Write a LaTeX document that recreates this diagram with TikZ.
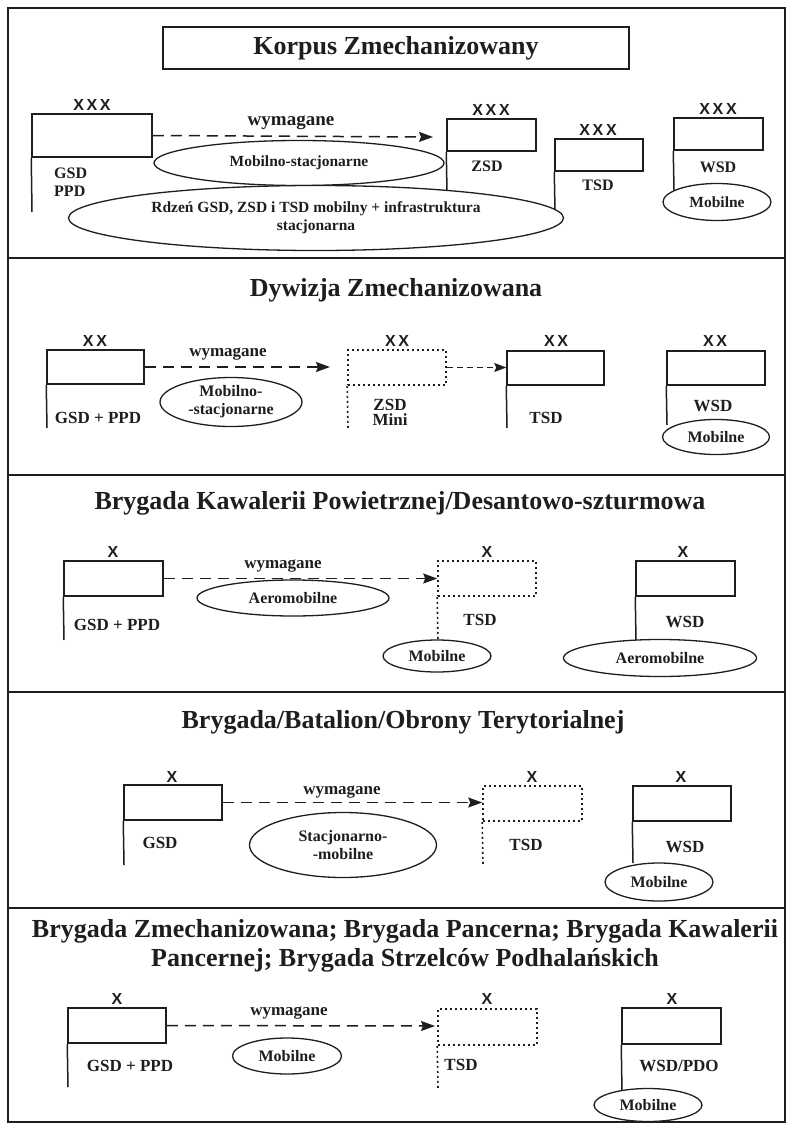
\documentclass[tikz,border=0pt]{standalone}
\usepackage{fontspec}
\setmainfont{Liberation Serif}
\newfontfamily\echelonfont{Liberation Sans}
\usetikzlibrary{shapes.geometric,arrows.meta}

\definecolor{ink}{HTML}{1E1E1E}

\tikzset{
  frameline/.style={draw=ink, line width=1.5pt},
  titletext/.style={font=\bfseries\fontsize{26}{29}\selectfont, text=ink, inner sep=0pt},
  unitbox/.style={draw=ink, line width=1.5pt, inner sep=0pt},
  dotbox/.style={draw=ink, line width=1.6pt, dash pattern=on 2pt off 3pt, inner sep=0pt},
  staffline/.style={draw=ink, line width=1.5pt},
  dotstaff/.style={draw=ink, line width=1.6pt, dash pattern=on 2pt off 3pt},
  echelon/.style={font=\echelonfont\bfseries\fontsize{16}{17}\selectfont, text=ink, inner sep=0pt},
  label/.style={font=\bfseries\fontsize{17}{19}\selectfont, text=ink, inner sep=0pt, align=center},
  smalllabel/.style={label, font=\bfseries\fontsize{16}{18}\selectfont},
  reqtext/.style={font=\bfseries\fontsize{17}{19}\selectfont, text=ink, inner sep=0pt},
  oval/.style={ellipse, draw=ink, line width=1.3pt, fill=white, inner sep=0pt,
    font=\bfseries\fontsize{16}{18}\selectfont, text=ink, align=center},
  smalloval/.style={oval, font=\bfseries\fontsize{15.5}{18}\selectfont},
  reqarrow/.style={draw=ink, line width=1.5pt, dash pattern=on 11pt off 7pt,
    -{Stealth[length=14pt,width=10pt,inset=2pt]}},
  shortarrow/.style={draw=ink, line width=1.3pt, dash pattern=on 6pt off 4pt,
    -{Stealth[length=12pt,width=9pt,inset=2pt]}},
}

\begin{document}
\begin{tikzpicture}[x=1pt,y=-1pt]
\useasboundingbox (0,0) rectangle (788,1126);
\fill[white] (0,0) rectangle (788,1126);

% outer frame and section separators
\draw[frameline] (8,8) rectangle (785,1122);
\draw[frameline] (8,258) -- (785,258);
\draw[frameline] (8,475) -- (785,475);
\draw[frameline] (8,692) -- (785,692);
\draw[frameline] (8,908) -- (785,908);

% ---------------- Korpus Zmechanizowany ----------------
\node[titletext, draw=ink, line width=1.3pt, minimum width=466pt, minimum height=42pt] (kt) at (396,48) {Korpus Zmechanizowany};

\node[unitbox, minimum width=120pt, minimum height=43pt] (k1) at (92,135.5) {};
\node[unitbox, minimum width=89pt, minimum height=32pt] (k2) at (491.5,135) {};
\node[unitbox, minimum width=88pt, minimum height=32pt] (k3) at (599,155) {};
\node[unitbox, minimum width=89pt, minimum height=32pt] (k4) at (718.5,134) {};

\coordinate (k1s) at (32,212);
\coordinate (k2s) at (447,191);
\coordinate (k3s) at (555,210);
\coordinate (k4s) at (674,190);
\draw[staffline] (k1.south west) -- (k1s);
\draw[staffline] (k2.south west) -- (k2s);
\draw[staffline] (k3.south west) -- (k3s);
\draw[staffline] (k4.south west) -- (k4s);

\node[echelon] (k1x) at (92,105) {X\,X\,X};
\node[echelon] (k2x) at (491,110) {X\,X\,X};
\node[echelon] (k3x) at (598,130) {X\,X\,X};
\node[echelon] (k4x) at (718,109) {X\,X\,X};

\node[smalllabel, anchor=west] (k1a) at (54,173) {GSD};
\node[smalllabel, anchor=west] (k1b) at (54,191) {PPD};
\node[smalllabel] (k2l) at (487,166) {ZSD};
\node[smalllabel] (k3l) at (598,185) {TSD};
\node[smalllabel] (k4l) at (718,167) {WSD};

\coordinate (k1e) at (433,137);
\draw[reqarrow] (k1.east) -- (k1e);
\node[reqtext, font=\bfseries\fontsize{19}{20}\selectfont] (kw) at (291,123) {wymagane};

\node[smalloval, minimum width=290pt, minimum height=45pt] (ke1) at (299,163) {Mobilno-stacjonarne};
\node[smalloval, minimum width=495pt, minimum height=65pt] (ke2) at (316,218) {Rdzeń GSD, ZSD i TSD mobilny + infrastruktura\\stacjonarna};
\node[smalloval, minimum width=108pt, minimum height=37pt] (ke3) at (717,202) {Mobilne};

% ---------------- Dywizja Zmechanizowana ----------------
\node[titletext] (dt) at (396,290) {Dywizja Zmechanizowana};

\node[unitbox, minimum width=97pt, minimum height=34pt] (d1) at (95.5,367) {};
\node[dotbox, minimum width=98pt, minimum height=35pt] (d2) at (397,367.5) {};
\node[unitbox, minimum width=97pt, minimum height=34pt] (d3) at (555.5,368) {};
\node[unitbox, minimum width=98pt, minimum height=34pt] (d4) at (716,368) {};

\coordinate (d1s) at (47,428);
\coordinate (d2s) at (348,428);
\coordinate (d3s) at (507,428);
\coordinate (d4s) at (667,425);
\draw[staffline] (d1.south west) -- (d1s);
\draw[dotstaff] (d2.south west) -- (d2s);
\draw[staffline] (d3.south west) -- (d3s);
\draw[staffline] (d4.south west) -- (d4s);

\node[echelon] (d1x) at (95,341) {X\,X};
\node[echelon] (d2x) at (397,341) {X\,X};
\node[echelon] (d3x) at (556,341) {X\,X};
\node[echelon] (d4x) at (715,341) {X\,X};

\node[label] (d1l) at (98,418) {GSD + PPD};
\node[label] (d2l) at (390,412) {ZSD\\[-4pt]Mini};
\node[label] (d3l) at (546,418) {TSD};
\node[label] (d4l) at (713,406) {WSD};

\coordinate (d1e) at (330,367);
\draw[reqarrow] (d1.east) -- (d1e);
\draw[shortarrow] (d2.east) -- (d2.east -| d3.west);
\node[reqtext] (dw) at (228,354) {wymagane};

\node[oval, minimum width=142pt, minimum height=49pt] (de1) at (231,402) {Mobilno-\\-stacjonarne};
\node[oval, minimum width=107pt, minimum height=35pt] (de2) at (716,437) {Mobilne};

% ---------------- Brygada Kawalerii Powietrznej ----------------
\node[titletext] (bt) at (400,503) {Brygada Kawalerii Powietrznej/Desantowo-szturmowa};

\node[unitbox, minimum width=99pt, minimum height=35pt] (b1) at (113.5,578.5) {};
\node[dotbox, minimum width=98pt, minimum height=35pt] (b2) at (487,578.5) {};
\node[unitbox, minimum width=99pt, minimum height=35pt] (b3) at (685.5,578.5) {};

\coordinate (b1s) at (64,640);
\coordinate (b2s) at (438,641);
\coordinate (b3s) at (636,640);
\draw[staffline] (b1.south west) -- (b1s);
\draw[dotstaff] (b2.south west) -- (b2s);
\draw[staffline] (b3.south west) -- (b3s);

\node[echelon] (b1x) at (113,552) {X};
\node[echelon] (b2x) at (487,552) {X};
\node[echelon] (b3x) at (683,552) {X};

\node[label] (b1l) at (117,625) {GSD + PPD};
\node[label] (b2l) at (480,620) {TSD};
\node[label] (b3l) at (685,622) {WSD};

\draw[reqarrow] (b1.east) -- (b2.west);
\node[reqtext] (bw) at (283,566) {wymagane};

\node[oval, minimum width=192pt, minimum height=36pt] (be1) at (293,598) {Aeromobilne};
\node[oval, minimum width=108pt, minimum height=32pt] (be2) at (437,656) {Mobilne};
\node[oval, minimum width=193pt, minimum height=37pt] (be3) at (660,658) {Aeromobilne};

% ---------------- Obrona Terytorialna ----------------
\node[titletext] (tt) at (403,722) {Brygada/Batalion/Obrony Terytorialnej};

\node[unitbox, minimum width=98pt, minimum height=35pt] (t1) at (173,802.5) {};
\node[dotbox, minimum width=99pt, minimum height=35pt] (t2) at (532.5,803.5) {};
\node[unitbox, minimum width=98pt, minimum height=35pt] (t3) at (682,803.5) {};

\coordinate (t1s) at (124,865);
\coordinate (t2s) at (483,865);
\coordinate (t3s) at (633,863);
\draw[staffline] (t1.south west) -- (t1s);
\draw[dotstaff] (t2.south west) -- (t2s);
\draw[staffline] (t3.south west) -- (t3s);

\node[echelon] (t1x) at (172,777) {X};
\node[echelon] (t2x) at (532,777) {X};
\node[echelon] (t3x) at (681,777) {X};

\node[label] (t1l) at (160,843) {GSD};
\node[label] (t2l) at (526,845) {TSD};
\node[label] (t3l) at (685,847) {WSD};

\draw[reqarrow] (t1.east) -- (t1.east -| t2.west);
\node[reqtext] (tw) at (342,792) {wymagane};

\node[oval, minimum width=187pt, minimum height=65pt] (te1) at (343,845) {Stacjonarno-\\-mobilne};
\node[oval, minimum width=108pt, minimum height=38pt] (te2) at (659,882) {Mobilne};

% ---------------- Brygady ogólnowojskowe ----------------
\node[titletext, align=center] (zt) at (405,946) {Brygada Zmechanizowana; Brygada Pancerna; Brygada Kawalerii\\Pancernej; Brygada Strzelców Podhalańskich};

\node[unitbox, minimum width=98pt, minimum height=35pt] (z1) at (117,1025.5) {};
\node[dotbox, minimum width=99pt, minimum height=36pt] (z2) at (487.5,1027) {};
\node[unitbox, minimum width=99pt, minimum height=36pt] (z3) at (671.5,1026) {};

\coordinate (z1s) at (68,1087);
\coordinate (z2s) at (438,1088);
\coordinate (z3s) at (622,1092);
\draw[staffline] (z1.south west) -- (z1s);
\draw[dotstaff] (z2.south west) -- (z2s);
\draw[staffline] (z3.south west) -- (z3s);

\node[echelon] (z1x) at (117,999) {X};
\node[echelon] (z2x) at (487,999) {X};
\node[echelon] (z3x) at (672,999) {X};

\node[label] (z1l) at (130,1066) {GSD + PPD};
\node[label] (z2l) at (461,1065) {TSD};
\node[label] (z3l) at (679,1066) {WSD/PDO};

\coordinate (z1e) at (435,1026);
\draw[reqarrow] (z1.east) -- (z1e);
\node[reqtext] (zw) at (289,1013) {wymagane};

\node[oval, minimum width=109pt, minimum height=36pt] (ze1) at (287,1056) {Mobilne};
\node[oval, minimum width=108pt, minimum height=33pt] (ze2) at (648,1105) {Mobilne};
\end{tikzpicture}
\end{document}
